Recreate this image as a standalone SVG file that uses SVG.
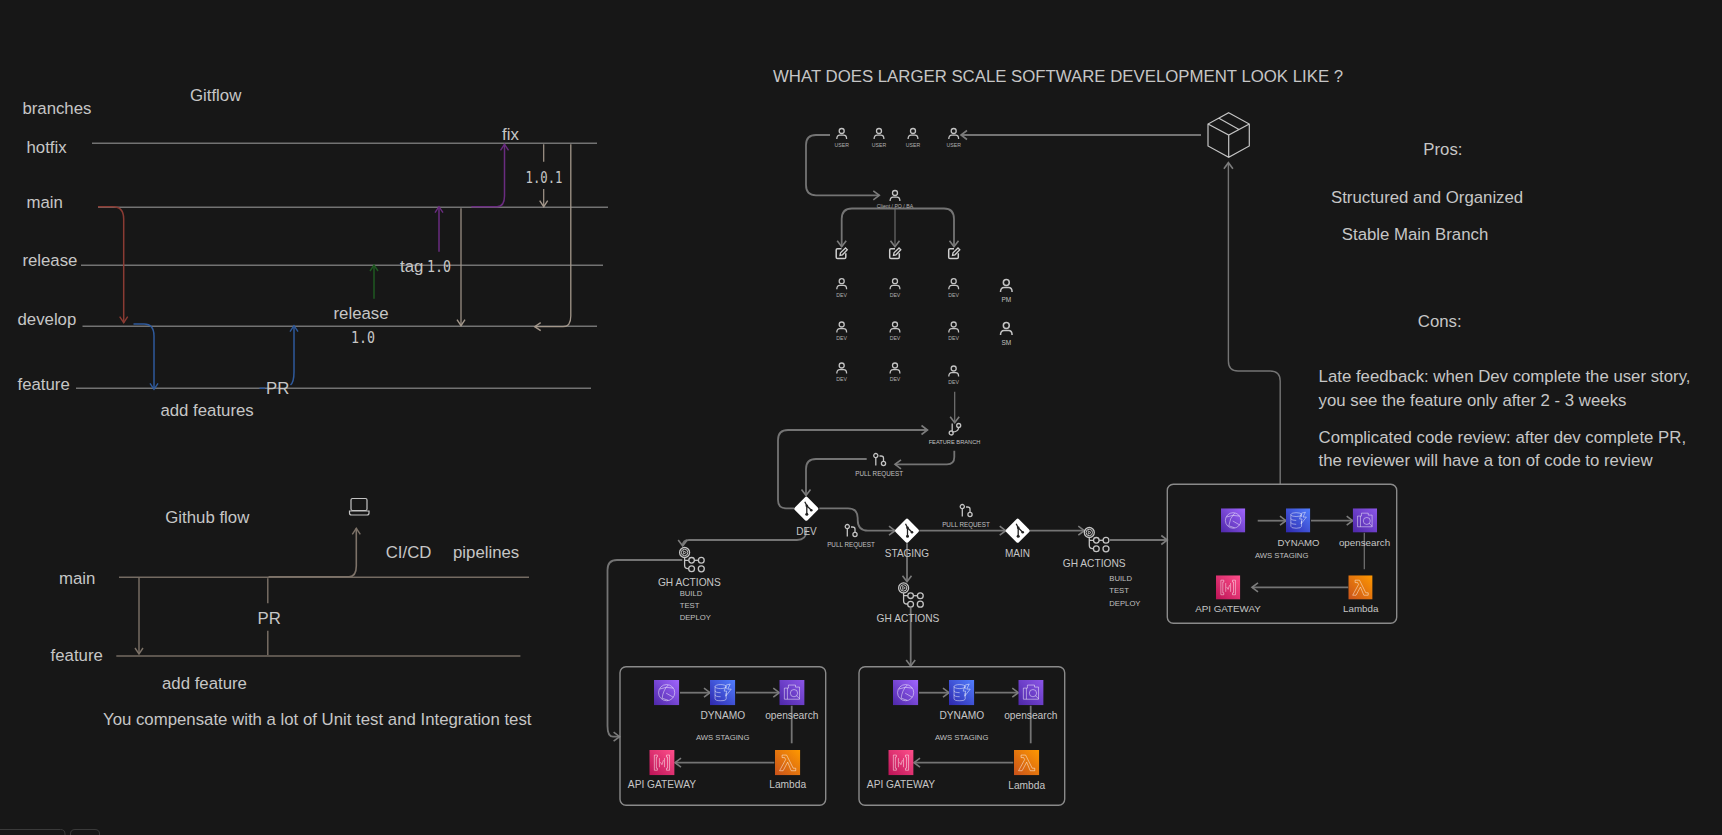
<svg xmlns="http://www.w3.org/2000/svg" xmlns:xlink="http://www.w3.org/1999/xlink" width="1722" height="835" viewBox="0 0 1722 835">
<style>
text{font-family:"Liberation Sans",Arial,sans-serif;fill:#c6c6c6}
.t{font-size:16.8px}
.m{font-family:"DejaVu Sans Mono","Liberation Mono",monospace;font-size:15px}
.c{text-anchor:middle}
.s5{font-size:5.2px;fill:#b0b0b0}
.s6{font-size:5.7px;fill:#c0c0c0}
.s63{font-size:6.3px;fill:#c0c0c0}
.s7{font-size:7.7px;fill:#c0c0c0}
.s10{font-size:10.2px}
.br{fill:none;stroke:#737373;stroke-width:1.5}
.ff{fill:none;stroke:#746b62;stroke-width:1.5}
.ar{fill:none;stroke:#747474;stroke-width:1.8;marker-end:url(#mg)}
.pl{fill:none;stroke:#747474;stroke-width:1.8}
.ic{fill:none;stroke:#c4c4c4;stroke-width:1.3}
.aw{fill:none;stroke:#ffffff;stroke-opacity:.6;stroke-width:.8}
</style>
<defs>
<marker id="mg" markerUnits="userSpaceOnUse" markerWidth="14" markerHeight="14" refX="9" refY="7" orient="auto"><path d="M3,2.5L9,7L3,11.5" fill="none" stroke="#7c7c7c" stroke-width="1.6"/></marker>
<marker id="mr" markerUnits="userSpaceOnUse" markerWidth="14" markerHeight="14" refX="9" refY="7" orient="auto"><path d="M3,3L9,7L3,11" fill="none" stroke="#8a3b33" stroke-width="1.4"/></marker>
<marker id="mb" markerUnits="userSpaceOnUse" markerWidth="14" markerHeight="14" refX="9" refY="7" orient="auto"><path d="M3,3L9,7L3,11" fill="none" stroke="#2f5a9c" stroke-width="1.4"/></marker>
<marker id="mv" markerUnits="userSpaceOnUse" markerWidth="14" markerHeight="14" refX="9" refY="7" orient="auto"><path d="M3,3L9,7L3,11" fill="none" stroke="#6a2c80" stroke-width="1.4"/></marker>
<marker id="mn" markerUnits="userSpaceOnUse" markerWidth="14" markerHeight="14" refX="9" refY="7" orient="auto"><path d="M3,3L9,7L3,11" fill="none" stroke="#1f5a22" stroke-width="1.4"/></marker>
<marker id="mt" markerUnits="userSpaceOnUse" markerWidth="14" markerHeight="14" refX="9" refY="7" orient="auto"><path d="M3,3L9,7L3,11" fill="none" stroke="#a3978b" stroke-width="1.4"/></marker>
<marker id="mf" markerUnits="userSpaceOnUse" markerWidth="14" markerHeight="14" refX="9" refY="7" orient="auto"><path d="M3,3L9,7L3,11" fill="none" stroke="#7d7268" stroke-width="1.4"/></marker>
<linearGradient id="gp" x1="0" y1="1" x2="1" y2="0"><stop offset="0" stop-color="#4d27a8"/><stop offset="1" stop-color="#a166ff"/></linearGradient>
<linearGradient id="gb" x1="0" y1="1" x2="1" y2="0"><stop offset="0" stop-color="#2e27ad"/><stop offset="1" stop-color="#527fff"/></linearGradient>
<linearGradient id="go" x1="0" y1="1" x2="1" y2="0"><stop offset="0" stop-color="#4d27a8"/><stop offset="1" stop-color="#8c56e8"/></linearGradient>
<linearGradient id="gk" x1="0" y1="1" x2="1" y2="0"><stop offset="0" stop-color="#bc1356"/><stop offset="1" stop-color="#ff4f8b"/></linearGradient>
<linearGradient id="gl" x1="0" y1="1" x2="1" y2="0"><stop offset="0" stop-color="#c8511b"/><stop offset="1" stop-color="#ff9900"/></linearGradient>
<symbol id="person" viewBox="0 0 11 11" overflow="visible"><circle cx="5.5" cy="3" r="2.5" class="ic"/><path d="M.6,11Q.6,7.2 3.6,7.2H7.4Q10.4,7.2 10.4,11" class="ic"/></symbol>
<symbol id="edit" viewBox="0 0 12 12" overflow="visible"><path d="M6,1.5H2Q.7,1.5 .7,2.8V10Q.7,11.3 2,11.3H9Q10.3,11.3 10.3,10V6" fill="none" stroke="#cfcfcf" stroke-width="1.5"/><path d="M4.5,8L5,5.5L10,.7L11.8,2.5L7,7.5Z" fill="none" stroke="#cfcfcf" stroke-width="1.3"/></symbol>
<symbol id="branch" viewBox="0 0 13 13" overflow="visible"><circle cx="3" cy="10" r="2" class="ic"/><circle cx="10.5" cy="2.5" r="2" class="ic"/><path d="M4,8V.5M4,9Q10,9 10.5,4.5" class="ic"/></symbol>
<symbol id="pr" viewBox="0 0 13 13" overflow="visible"><circle cx="2.8" cy="2.6" r="2.1" class="ic"/><path d="M2.8,4.8V12.6" class="ic"/><circle cx="10.5" cy="10.5" r="2.1" class="ic"/><path d="M10.5,8.4V5Q10.5,3 8,3H6.5" class="ic"/></symbol>
<symbol id="git" viewBox="-13 -13 26 26" overflow="visible"><rect x="-9" y="-9" width="18" height="18" rx="1.8" transform="rotate(45)" fill="#ffffff"/><path d="M-1.5,-7L.5,-3V5.5M.5,-3L5,1.5" fill="none" stroke="#222" stroke-width="1.3"/><circle cx=".5" cy="5.5" r="1.5" fill="#222"/><circle cx=".5" cy="-3" r="1.3" fill="#222"/><circle cx="5" cy="1.5" r="1.3" fill="#222"/></symbol>
<symbol id="gha" viewBox="0 0 26 25.5" overflow="visible"><circle cx="5.3" cy="5.2" r="5" class="ic"/><circle cx="5.3" cy="5.2" r="3.2" class="ic" style="stroke-width:1"/><path d="M4.3,3.6L7,5.2L4.3,6.8Z" class="ic" style="stroke-width:.8"/><path d="M5.3,10.2V18Q5.3,21.3 8.6,21.3H9.5M5.3,13H9.5" class="ic"/><circle cx="12.3" cy="13" r="2.8" class="ic"/><circle cx="22" cy="13" r="2.9" class="ic"/><circle cx="12.3" cy="21.5" r="2.9" class="ic"/><circle cx="22" cy="21.5" r="3" class="ic"/><path d="M15,13H19" class="ic"/></symbol>
<symbol id="aws-globe" viewBox="0 0 25 25"><rect width="25" height="25" fill="url(#gp)"/><circle cx="12.5" cy="12.5" r="8" class="aw"/><path d="M5.5,9Q12,6 19,8M8,18Q9,10 14,5M12,13L19,17M8,18L14,20" class="aw"/></symbol>
<symbol id="aws-dynamo" viewBox="0 0 25 25"><rect width="25" height="25" fill="url(#gb)"/><ellipse cx="10.5" cy="6.5" rx="5.5" ry="2" class="aw"/><path d="M5,6.5V18.5Q5,20.5 10.5,20.5T16,18.5V13M5,10.5Q5,12.5 10.5,12.5M5,14.5Q5,16.5 10.5,16.5M16,6.5V9M16,5L20,4L17.5,9H21L15.5,16L16.5,11H14Z" class="aw"/></symbol>
<symbol id="aws-search" viewBox="0 0 25 25"><rect width="25" height="25" fill="url(#go)"/><path d="M5,8H9V5H16V7H20V19H5Z" class="aw"/><path d="M8,8V19" class="aw"/><circle cx="14.5" cy="13" r="3.6" class="aw"/><path d="M17,15.5L20,18.5" class="aw"/></symbol>
<symbol id="aws-api" viewBox="0 0 25 25"><rect width="25" height="25" fill="url(#gk)"/><path d="M8,5H5V20H8L8,18H7V7H8ZM17,5H20V20H17V18H18V7H17Z" class="aw"/><path d="M10,8V17M15,8V17M11,12L12.5,14.5L14,10" class="aw"/></symbol>
<symbol id="aws-lambda" viewBox="0 0 25 25"><rect width="25" height="25" fill="url(#gl)"/><path d="M7,5H11.5L18,18H20.5V20.5H16L12.5,12L8,20.5H4.5L10.5,9.5L9.5,7.5H7Z" class="aw"/></symbol>
</defs>
<rect width="1722" height="835" fill="#171717"/>

<g id="connectors">
<path class="br" d="M92,143.3H597M98,207.3H608M81,265.3H603M82.5,326.3H597M76,388.3H591"/>
<path d="M98,206.7H113Q123.7,206.7 123.7,219V322.7" fill="none" stroke="#8a3b33" stroke-width="1.5" marker-end="url(#mr)"/>
<path d="M133.5,324H144Q154,324 154,336V389.3" fill="none" stroke="#2f5a9c" stroke-width="1.5" marker-end="url(#mb)"/>
<path d="M259.5,388.3H265" fill="none" stroke="#2f5a9c" stroke-width="1.5"/>
<path d="M290.5,385Q294,382 294,372V325.7" fill="none" stroke="#2f5a9c" stroke-width="1.5" marker-end="url(#mb)"/>
<path d="M374,298.7V265" fill="none" stroke="#1f5a22" stroke-width="1.5" marker-end="url(#mn)"/>
<path d="M439,251.7V206.7" fill="none" stroke="#6a2c80" stroke-width="1.5" marker-end="url(#mv)"/>
<path d="M471.4,206.7H497Q504.5,206.7 504.5,196V144.3" fill="none" stroke="#6a2c80" stroke-width="1.5" marker-end="url(#mv)"/>
<path d="M543.7,144.3V161.7" fill="none" stroke="#a3978b" stroke-width="1.2"/>
<path d="M543.7,189V206.7" fill="none" stroke="#a3978b" stroke-width="1.2" marker-end="url(#mt)"/>
<path d="M461,208.3V325.7" fill="none" stroke="#a3978b" stroke-width="1.2" marker-end="url(#mt)"/>
<path d="M570.8,144.3V316Q570.8,326.7 563,326.7H534.7" fill="none" stroke="#a3978b" stroke-width="1.3" marker-end="url(#mt)"/>

<path class="ff" d="M119,577.3H529M116.3,656H520.4"/>
<path d="M139,577.3V654" fill="none" stroke="#7d7268" stroke-width="1.4" marker-end="url(#mf)"/>
<path d="M267.8,578.3V603.3M267.8,630.7V655" fill="none" stroke="#7d7268" stroke-width="1.4"/>
<path d="M268.6,576.7H349Q356.3,576.7 356.3,566V528.3" fill="none" stroke="#7d7268" stroke-width="1.6" marker-end="url(#mf)"/>

<path class="ar" d="M1201,135H961"/>
<path class="ar" d="M830,135H816Q806,135 806,145V185Q806,195.3 816,195.3H879.3"/>
<path class="ar" d="M895,208.5H852Q841.7,208.5 841.7,219V246.7"/>
<path class="ar" d="M895,208.5V246.7" style="stroke-width:1.1"/>
<path class="ar" d="M895,208.5H944Q954,208.5 954,219V246.7"/>
<path class="ar" d="M954.7,391.7V422.7" style="stroke-width:1.2"/>
<path class="ar" d="M794,508.3H786Q778,508.3 778,500V440Q778,430 788,430H927.5"/>
<path class="ar" d="M954.3,450.7V457Q954.3,464.3 947,464.3H895"/>
<path class="ar" d="M866.7,459H816Q806,459 806,469V495.5"/>
<path class="ar" d="M819.3,508.3H848Q857.7,508.3 857.7,518V520Q857.7,530.7 868,530.7H895"/>
<path class="ar" d="M919.3,530.7H1005.7"/>
<path class="ar" d="M1030,530.7H1084.3"/>
<path class="ar" d="M1110,540H1167.3"/>
<path class="ar" d="M907,543.3V581.7"/>
<path class="ar" d="M910.7,608V666"/>
<path class="ar" d="M806.3,528V531Q806.3,540 797,540H689Q682.7,540 682.7,546"/>
<path class="ar" d="M682.3,560H617Q607.5,560 607.5,570V726Q607.5,736.7 613,736.7H619.6"/>
<path class="ar" d="M1280.2,484V381Q1280.2,371 1270,371H1238Q1228.4,371 1228.4,361V162.7" style="stroke-width:1.4"/>

<path class="ar" d="M680,692.7H710"/>
<path class="ar" d="M736,692.7H779.3"/>
<path class="pl" d="M791.7,705.7V743.3"/>
<path class="ar" d="M774.3,762.7H675"/>
<path class="ar" d="M919,692.7H949"/>
<path class="ar" d="M975,692.7H1018.3"/>
<path class="pl" d="M1030.7,705.7V743.3"/>
<path class="ar" d="M1013.3,762.7H914"/>
<path class="ar" d="M1257.7,520.7H1286"/>
<path class="ar" d="M1311,520.7H1352.7"/>
<path class="pl" d="M1364.3,532.7V569.3" style="stroke-width:1.2"/>
<path class="ar" d="M1348.3,587.3H1252"/>
</g>

<g id="gitflow-labels">
<text class="t" x="190" y="100.7">Gitflow</text>
<text class="t" x="22.4" y="114">branches</text>
<text class="t" x="26.5" y="152.7">hotfix</text>
<text class="t" x="26.5" y="208.3">main</text>
<text class="t" x="22.4" y="266">release</text>
<text class="t" x="17.5" y="325">develop</text>
<text class="t" x="17.5" y="390">feature</text>
<text class="t" x="160.4" y="416">add features</text>
<text class="t" x="266" y="394">PR</text>
<text class="t" x="333.5" y="319">release</text>
<text class="m" x="351" y="342.7" textLength="24" lengthAdjust="spacingAndGlyphs">1.0</text>
<text class="t" x="400" y="272">tag</text>
<text class="m" x="427" y="272" textLength="24" lengthAdjust="spacingAndGlyphs">1.0</text>
<text class="t" x="502" y="140">fix</text>
<text class="m" x="525.5" y="182.7" textLength="37" lengthAdjust="spacingAndGlyphs">1.0.1</text>
</g>

<g id="github-flow-labels">
<text class="t" x="165.3" y="522.7">Github flow</text>
<text class="t" x="385.7" y="558.3">CI/CD</text>
<text class="t" x="453" y="558.3">pipelines</text>
<text class="t" x="59" y="584.3">main</text>
<text class="t" x="50.6" y="661">feature</text>
<text class="t" x="257.5" y="624">PR</text>
<text class="t" x="162" y="689">add feature</text>
<text class="t" x="103" y="725">You compensate with a lot of Unit test and Integration test</text>
</g>
<g id="laptop">
<rect x="351" y="498.5" width="16" height="12" rx="1.5" fill="none" stroke="#c4c4c4" stroke-width="1.2"/>
<path d="M349.5,511H369V513Q369,515 367,515H351.5Q349.5,515 349.5,513Z" fill="none" stroke="#c4c4c4" stroke-width="1.2"/>
</g>

<g id="title"><text class="t" x="773" y="82">WHAT DOES LARGER SCALE SOFTWARE DEVELOPMENT LOOK LIKE ?</text></g>

<g id="package" fill="none" stroke="#c4c4c4" stroke-width="1.2">
<path d="M1228.7,112.7L1249.3,124V146L1228.7,157.3L1208,146V124ZM1208,124L1228.7,135L1249.3,124M1228.7,135V157.3M1218.5,118L1239,129.5"/>
</g>

<g id="user-1"><use href="#person" x="836.2" y="128" width="11" height="11"/><text class="s5 c" x="841.7" y="146.7">USER</text></g>
<g id="user-2"><use href="#person" x="873.5" y="128" width="11" height="11"/><text class="s5 c" x="879" y="146.7">USER</text></g>
<g id="user-3"><use href="#person" x="907.5" y="128" width="11" height="11"/><text class="s5 c" x="913" y="146.7">USER</text></g>
<g id="user-4"><use href="#person" x="948.2" y="128" width="11" height="11"/><text class="s5 c" x="953.7" y="146.7">USER</text></g>
<g id="client"><use href="#person" x="889.5" y="190" width="11" height="11"/><text class="s5 c" x="895" y="208">Client / PO / BA</text></g>

<g id="edit-1"><use href="#edit" x="835.5" y="247.3" width="12" height="12"/></g>
<g id="edit-2"><use href="#edit" x="889" y="247.3" width="12" height="12"/></g>
<g id="edit-3"><use href="#edit" x="948" y="247.3" width="12" height="12"/></g>

<g id="dev-1"><use href="#person" x="836.2" y="278.2" width="11" height="11"/><text class="s5 c" x="841.7" y="297">DEV</text></g>
<g id="dev-2"><use href="#person" x="889.5" y="278.2" width="11" height="11"/><text class="s5 c" x="895" y="297">DEV</text></g>
<g id="dev-3"><use href="#person" x="948.2" y="278.2" width="11" height="11"/><text class="s5 c" x="953.7" y="297">DEV</text></g>
<g id="dev-4"><use href="#person" x="836.2" y="321.5" width="11" height="11"/><text class="s5 c" x="841.7" y="340">DEV</text></g>
<g id="dev-5"><use href="#person" x="889.5" y="321.5" width="11" height="11"/><text class="s5 c" x="895" y="340">DEV</text></g>
<g id="dev-6"><use href="#person" x="948.2" y="321.5" width="11" height="11"/><text class="s5 c" x="953.7" y="340">DEV</text></g>
<g id="dev-7"><use href="#person" x="836.2" y="362.5" width="11" height="11"/><text class="s5 c" x="841.7" y="381">DEV</text></g>
<g id="dev-8"><use href="#person" x="889.5" y="362.5" width="11" height="11"/><text class="s5 c" x="895" y="381">DEV</text></g>
<g id="dev-9"><use href="#person" x="948.2" y="365.5" width="11" height="11"/><text class="s5 c" x="953.7" y="384">DEV</text></g>
<g id="pm"><use href="#person" x="999.8" y="279" width="13" height="13"/><text class="s6 c" x="1006.3" y="301.7" style="font-size:6.5px">PM</text></g>
<g id="sm"><use href="#person" x="999.8" y="322" width="13" height="13"/><text class="s6 c" x="1006.3" y="345" style="font-size:6.5px">SM</text></g>

<g id="feature-branch"><use href="#branch" x="948.2" y="423" width="13" height="13"/><text class="s6 c" x="954.5" y="443.7">FEATURE BRANCH</text></g>
<g id="pull-request-1"><use href="#pr" x="873" y="453" width="13" height="13"/><text class="s63 c" x="879.2" y="476">PULL REQUEST</text></g>
<g id="pull-request-2"><use href="#pr" x="844.5" y="524" width="13" height="13"/><text class="s63 c" x="851" y="547.3">PULL REQUEST</text></g>
<g id="pull-request-3"><use href="#pr" x="959.5" y="504" width="13" height="13"/><text class="s63 c" x="966" y="526.7">PULL REQUEST</text></g>

<g id="git-dev"><use href="#git" x="793.3" y="495.7" width="26" height="26"/><text class="c" x="806.5" y="535" style="font-size:10px">DEV</text></g>
<g id="git-staging"><use href="#git" x="894" y="517.7" width="26" height="26"/><text class="c" x="907" y="556.7" style="font-size:10px">STAGING</text></g>
<g id="git-main"><use href="#git" x="1004.7" y="517.7" width="26" height="26"/><text class="c" x="1017.5" y="556.7" style="font-size:10px">MAIN</text></g>

<g id="gh-actions-dev"><use href="#gha" x="679.3" y="547.3" width="26" height="25.5"/><text class="s10 c" x="689.3" y="585.7">GH ACTIONS</text>
<text class="s7" x="679.7" y="596">BUILD</text><text class="s7" x="679.7" y="608">TEST</text><text class="s7" x="679.7" y="620.3">DEPLOY</text></g>
<g id="gh-actions-staging"><use href="#gha" x="898.3" y="582.7" width="26" height="25.5"/><text class="s10 c" x="908" y="621.7">GH ACTIONS</text></g>
<g id="gh-actions-main"><use href="#gha" x="1084" y="527.3" width="26" height="25.5"/><text class="s10 c" x="1094.2" y="566.7">GH ACTIONS</text>
<text class="s7" x="1109.3" y="581">BUILD</text><text class="s7" x="1109.3" y="593.3">TEST</text><text class="s7" x="1109.3" y="605.7">DEPLOY</text></g>

<g id="aws-dev">
<rect x="620" y="666.7" width="205.7" height="138.6" rx="6" fill="none" stroke="#8a8a8a" stroke-width="1.4"/>
<use href="#aws-globe" x="654" y="680" width="25.3" height="25.3"/>
<use href="#aws-dynamo" x="710" y="680" width="25.3" height="25.3"/>
<use href="#aws-search" x="779.3" y="680" width="25.3" height="25.3"/>
<use href="#aws-api" x="649.3" y="750" width="25.3" height="25.3"/>
<use href="#aws-lambda" x="775" y="750" width="25.3" height="25.3"/>
<text class="s10 c" x="722.8" y="718.7">DYNAMO</text>
<text class="s10 c" x="791.8" y="718.7">opensearch</text>
<text class="s7 c" x="722.7" y="739.7">AWS STAGING</text>
<text class="s10 c" x="662" y="788.3">API GATEWAY</text>
<text class="s10 c" x="787.7" y="788.3">Lambda</text>
</g>
<g id="aws-staging">
<rect x="859" y="666.7" width="205.7" height="138.6" rx="6" fill="none" stroke="#8a8a8a" stroke-width="1.4"/>
<use href="#aws-globe" x="893" y="680" width="25.3" height="25.3"/>
<use href="#aws-dynamo" x="949" y="680" width="25.3" height="25.3"/>
<use href="#aws-search" x="1018.3" y="680" width="25.3" height="25.3"/>
<use href="#aws-api" x="888.3" y="750" width="25.3" height="25.3"/>
<use href="#aws-lambda" x="1014" y="750" width="25.3" height="25.3"/>
<text class="s10 c" x="961.8" y="718.7">DYNAMO</text>
<text class="s10 c" x="1030.8" y="719.4">opensearch</text>
<text class="s7 c" x="961.7" y="739.7">AWS STAGING</text>
<text class="s10 c" x="901" y="788.3">API GATEWAY</text>
<text class="s10 c" x="1026.7" y="789">Lambda</text>
</g>
<g id="aws-main">
<rect x="1167.3" y="484.3" width="229.4" height="139" rx="6" fill="none" stroke="#8a8a8a" stroke-width="1.4"/>
<use href="#aws-globe" x="1221" y="508.3" width="24.3" height="24.3"/>
<use href="#aws-dynamo" x="1286" y="508.3" width="24.3" height="24.3"/>
<use href="#aws-search" x="1352.7" y="508.3" width="24.3" height="24.3"/>
<use href="#aws-api" x="1216" y="575.3" width="24.3" height="24.3"/>
<use href="#aws-lambda" x="1348.3" y="575.3" width="24.3" height="24.3"/>
<text class="s10 c" x="1298.5" y="545.7" style="font-size:9.6px">DYNAMO</text>
<text class="s10 c" x="1364.5" y="545.7" style="font-size:9.8px">opensearch</text>
<text class="s7 c" x="1281.7" y="557.7">AWS STAGING</text>
<text class="s10 c" x="1228" y="612.3" style="font-size:9.8px">API GATEWAY</text>
<text class="s10 c" x="1360.7" y="612.3" style="font-size:9.8px">Lambda</text>
</g>

<g id="pros-cons">
<text class="t" x="1423.3" y="155">Pros:</text>
<text class="t" x="1331" y="202.7">Structured and Organized</text>
<text class="t" x="1341.8" y="240.3">Stable Main Branch</text>
<text class="t" x="1417.8" y="327">Cons:</text>
<text class="t" x="1318.6" y="382.3">Late feedback: when Dev complete the user story,</text>
<text class="t" x="1318.6" y="405.7">you see the feature only after 2 - 3 weeks</text>
<text class="t" x="1318.6" y="442.7">Complicated code review: after dev complete PR,</text>
<text class="t" x="1318.6" y="466">the reviewer will have a ton of code to review</text>
</g>

<g id="tabs" fill="none" stroke="#3a3a3a" stroke-width="1">
<path d="M0,829.5H60.5Q65,829.5 65,834V835"/>
<path d="M70.5,835V834Q70.5,829.5 75,829.5H95Q99.5,829.5 99.5,834V835"/>
</g>
</svg>
